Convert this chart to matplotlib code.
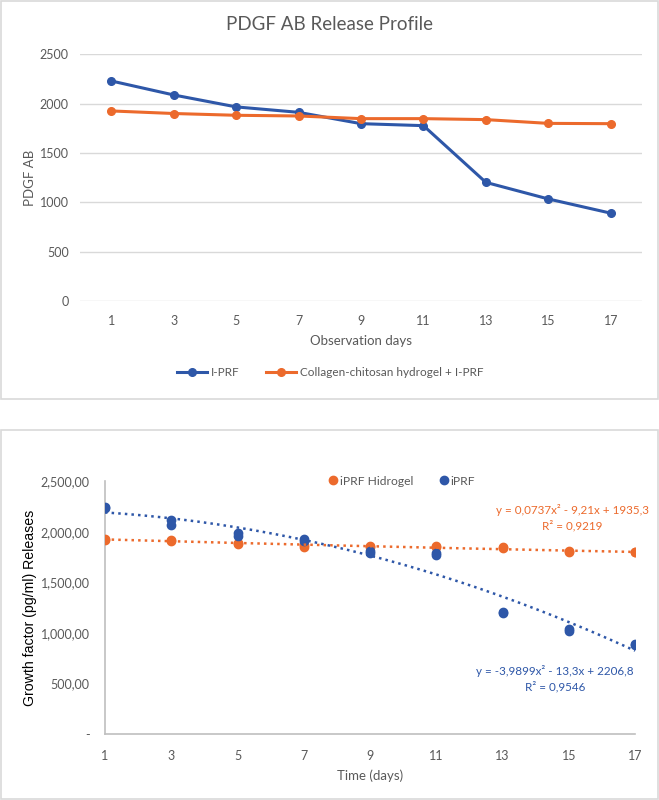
import numpy as np
import matplotlib
matplotlib.use("Agg")
import matplotlib.pyplot as plt
from matplotlib.patches import Rectangle
from matplotlib.ticker import FuncFormatter

# ---- data ----
days = [1, 3, 5, 7, 9, 11, 13, 15, 17]

# top chart: mean release profile
iprf_mean = [2230, 2088, 1967, 1912, 1797, 1777, 1202, 1034, 890]
hydro_mean = [1926, 1900, 1882, 1875, 1848, 1848, 1838, 1800, 1797]

# bottom chart: replicate measurements
hydro_r1 = [1930, 1915, 1890, 1865, 1860, 1860, 1845, 1805, 1800]
hydro_r2 = [1920, 1910, 1875, 1850, 1850, 1845, 1835, 1800, 1797]
iprf_r1 = [2245, 2112, 1985, 1925, 1810, 1790, 1205, 1040, 895]
iprf_r2 = [2230, 2063, 1955, 1910, 1790, 1770, 1200, 1020, 885]

eq_hydro = ["y = 0,0737x\u00b2 - 9,21x + 1935,3", "R\u00b2 = 0,9219"]
eq_iprf = ["y = -3,9899x\u00b2 - 13,3x + 2206,8", "R\u00b2 = 0,9546"]

BLUE = "#2E57A8"
ORANGE = "#EC6A2C"
GRAY = "#595959"
GRID = "#D9D9D9"

plt.rcParams["font.family"] = ["Lato", "DejaVu Sans"]

fig = plt.figure(figsize=(6.59, 8.0), dpi=100)
W, H = 659, 800

def box(x0, y0, x1, y1):
    # pixel coords (top-left origin) -> figure fraction
    return [x0 / W, 1 - y1 / H, (x1 - x0) / W, (y1 - y0) / H]

def ftext(px, py, s, **kw):
    fig.text(px / W, 1 - py / H, s, ha="center", va="center", **kw)

# panel frames
fig.patches.append(Rectangle((1 / W, 1 - 399 / H), 657 / W, 398 / H, transform=fig.transFigure,
                             fill=False, edgecolor=GRID, linewidth=1.2))
fig.patches.append(Rectangle((1 / W, 1 - 799 / H), 657 / W, 369 / H, transform=fig.transFigure,
                             fill=False, edgecolor=GRID, linewidth=1.2))

# ---- top chart ----
ax1 = fig.add_axes(box(80, 54.3, 642, 301))
pos = np.arange(len(days))
ax1.plot(pos, iprf_mean, color=BLUE, lw=2.2, marker="o", ms=5.5, label="I-PRF", zorder=3)
ax1.plot(pos, hydro_mean, color=ORANGE, lw=2.2, marker="o", ms=5.5,
         label="Collagen-chitosan hydrogel + I-PRF", zorder=4)
ax1.set_xlim(-0.5, len(days) - 0.5)
ax1.set_ylim(0, 2500)
ax1.set_yticks(range(0, 2501, 500))
ax1.set_xticks(pos)
ax1.set_xticklabels([str(d) for d in days])
ax1.grid(axis="y", color=GRID, lw=1)
ax1.set_axisbelow(True)
for s in ax1.spines.values():
    s.set_visible(False)
ax1.tick_params(length=0, colors=GRAY, labelsize=9)
ax1.tick_params(axis="y", pad=8)
ax1.tick_params(axis="x", pad=10)
ax1.set_ylabel("PDGF AB", fontsize=9.5, color=GRAY, labelpad=3)
ax1.set_xlabel("Observation days", fontsize=9.5, color=GRAY, labelpad=6)
ftext(330, 25, "PDGF AB Release Profile", fontsize=13.5, color=GRAY)
ax1.legend(loc="center", bbox_to_anchor=(0.445, -0.29), ncol=2, frameon=False,
           fontsize=8.5, labelcolor=GRAY, handlelength=2.6, columnspacing=2.2,
           handletextpad=0.3)

# ---- bottom chart ----
ax2 = fig.add_axes(box(105, 481, 635, 734.3))
x = np.array(days + days)
yh = np.array(hydro_r1 + hydro_r2)
yi = np.array(iprf_r1 + iprf_r2)
ax2.plot(x, yh, "o", color=ORANGE, ms=6, label="iPRF Hidrogel", zorder=3)
ax2.plot(x, yi, "o", color=BLUE, ms=6, label="iPRF", zorder=4)
xs = np.linspace(1, 17, 200)
ax2.plot(xs, np.polyval(np.polyfit(x, yh, 2), xs), ":", color=ORANGE, lw=1.8, zorder=5)
ax2.plot(xs, np.polyval(np.polyfit(x, yi, 2), xs), ":", color=BLUE, lw=1.8, zorder=5)
ax2.set_xlim(1, 17)
ax2.set_ylim(0, 2500)
ax2.set_xticks(days)
ax2.set_yticks(range(0, 2501, 500))

def fmt(v, _):
    if v == 0:
        return "-"
    return f"{int(v):,}" + ",00"

ax2.yaxis.set_major_formatter(FuncFormatter(fmt))
for k in ("top", "right"):
    ax2.spines[k].set_visible(False)
for k in ("left", "bottom"):
    ax2.spines[k].set_color("#BFBFBF")
    ax2.spines[k].set_linewidth(1.2)
ax2.tick_params(length=0, colors=GRAY, labelsize=9)
ax2.tick_params(axis="y", pad=11)
ax2.tick_params(axis="x", pad=11)
ax2.set_ylabel("Growth factor (pg/ml) Releases", fontsize=10.2, color="black",
               family=["Liberation Sans", "DejaVu Sans"], labelpad=3)
ax2.set_xlabel("Time (days)", fontsize=9.5, color=GRAY, labelpad=6)
ax2.legend(loc="center", bbox_to_anchor=(296 / 530, 1.0), ncol=2, frameon=False,
           fontsize=8.7, labelcolor=GRAY, handletextpad=0.1, columnspacing=2.0,
           handlelength=1)

ftext(572, 510, eq_hydro[0], fontsize=8.4, color=ORANGE)
ftext(572, 526, eq_hydro[1], fontsize=8.4, color=ORANGE)
ftext(555, 671, eq_iprf[0], fontsize=8.4, color=BLUE)
ftext(555, 687, eq_iprf[1], fontsize=8.4, color=BLUE)

fig.savefig("out.png", dpi=100)
